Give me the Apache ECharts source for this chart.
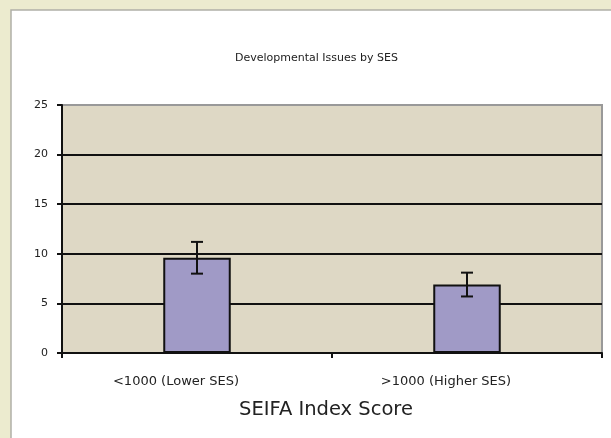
<!DOCTYPE html>
<html>
<head>
<meta charset="utf-8">
<script src="https://cdn.jsdelivr.net/npm/echarts@6/dist/echarts.min.js"></script>
<style>
  html, body { margin: 0; padding: 0; background: #ecebcf; }
  #chart { width: 611px; height: 438px; }
</style>
</head>
<body>
<div id="chart"></div>
<script>
// data
const categories = ['<1000 (Lower SES)', '>1000 (Higher SES)']
const means = [9.6, 6.9]
const errLow = [8.0, 5.7]
const errHigh = [11.2, 8.1]
const yTicks = [0, 5, 10, 15, 20, 25]

const FONT = '"DejaVu Sans", Verdana, sans-serif'

const chart = echarts.init(document.getElementById('chart'))

// error bar: vertical line with short caps, placed by the value axis
function renderErrorBar(params, api) {
  const idx = api.value(0)
  const lo = api.coord([idx, api.value(1)])
  const hi = api.coord([idx, api.value(2)])
  const half = 6
  const style = { stroke: '#111', lineWidth: 2 }
  return {
    type: 'group',
    children: [
      { type: 'line', shape: { x1: hi[0], y1: hi[1], x2: lo[0], y2: lo[1] }, style },
      { type: 'line', shape: { x1: hi[0] - half, y1: hi[1], x2: hi[0] + half, y2: hi[1] }, style },
      { type: 'line', shape: { x1: lo[0] - half, y1: lo[1], x2: lo[0] + half, y2: lo[1] }, style }
    ]
  }
}

const option = {
  backgroundColor: '#ecebcf',
  animation: false,
  graphic: [
    {
      type: 'rect',
      z: -10,
      shape: { x: 11, y: 10, width: 620, height: 440 },
      style: { fill: '#ffffff', stroke: '#b0b0a8', lineWidth: 1.5 }
    }
  ],
  title: {
    text: 'Developmental Issues by SES',
    left: 230,
    top: 48,
    textStyle: { fontFamily: FONT, fontSize: 11, fontWeight: 'normal', color: '#222' }
  },
  grid: {
    left: 62, right: 9, top: 105, bottom: 85,
    show: true,
    backgroundColor: '#ded8c5',
    borderColor: '#999',
    borderWidth: 2
  },
  xAxis: {
    type: 'category',
    data: categories,
    name: 'SEIFA Index Score',
    nameLocation: 'middle',
    nameGap: 47,
    nameTextStyle: { fontFamily: FONT, fontSize: 19.5, color: '#222', padding: [0, 12, 0, 0] },
    axisLine: { lineStyle: { color: '#111', width: 2 } },
    axisTick: { show: true, length: 5, lineStyle: { color: '#111', width: 2 } },
    axisLabel: { fontFamily: FONT, fontSize: 13, color: '#222', margin: 22, padding: [0, 42, 0, 0] },
    splitLine: { show: false }
  },
  yAxis: {
    type: 'value',
    min: yTicks[0],
    max: yTicks[yTicks.length - 1],
    interval: 5,
    axisLine: { show: true, lineStyle: { color: '#111', width: 2 } },
    axisTick: { show: true, length: 5, lineStyle: { color: '#111', width: 2 } },
    axisLabel: { fontFamily: FONT, fontSize: 11, color: '#222', margin: 14 },
    splitLine: { showMaxLine: false, lineStyle: { color: '#111', width: 2 } }
  },
  series: [
    {
      type: 'bar',
      data: means,
      barWidth: '25%',
      itemStyle: { color: '#a09ac6', borderColor: '#111', borderWidth: 2 }
    },
    {
      type: 'custom',
      renderItem: renderErrorBar,
      data: categories.map((c, i) => [i, errLow[i], errHigh[i]]),
      z: 10
    }
  ]
}

chart.setOption(option)
</script>
</body>
</html>
